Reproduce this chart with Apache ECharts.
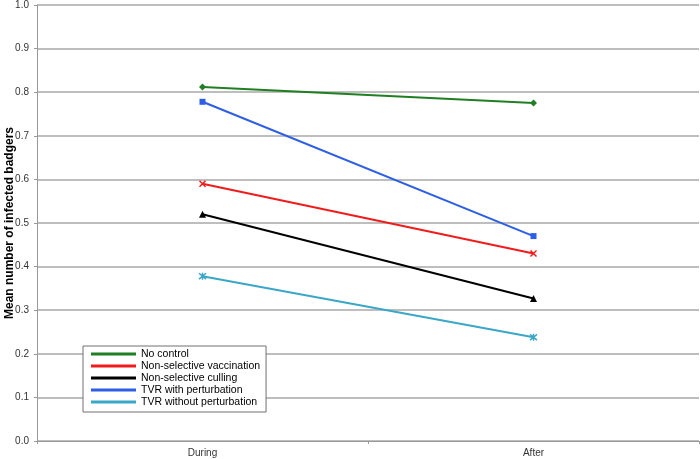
<!DOCTYPE html>
<html>
<head>
<meta charset="utf-8">
<script src="https://cdn.jsdelivr.net/npm/echarts@6/dist/echarts.min.js"></script>
<style>html,body{margin:0;padding:0;background:#fff}#c{width:700px;height:459px}</style>
</head>
<body>
<div id="c"></div>
<script>
var categories = ['During', 'After'];
var seriesNames = ['No control', 'Non-selective vaccination', 'Non-selective culling', 'TVR with perturbation', 'TVR without perturbation'];
var noControl = [0.812, 0.775];
var nsVaccination = [0.590, 0.430];
var nsCulling = [0.520, 0.327];
var tvrWith = [0.778, 0.470];
var tvrWithout = [0.378, 0.238];
var yTicks = [0, 0.1, 0.2, 0.3, 0.4, 0.5, 0.6, 0.7, 0.8, 0.9, 1.0];

var colors = ['#1f7f22', '#f01c1c', '#000000', '#2c5fe6', '#3aa7c6'];
var symbols = ['diamond', 'path://M0,0L10,10M10,0L0,10', 'triangle', 'rect', 'path://M0,0L10,10M10,0L0,10M5,-1L5,11'];
var sizes = [7, 6, 7, 6, 7];
var dataSets = [noControl, nsVaccination, nsCulling, tvrWith, tvrWithout];

var chart = echarts.init(document.getElementById('c'));
var font = '"Liberation Sans", Arial, sans-serif';
chart.setOption({
  animation: false,
  textStyle: { fontFamily: font },
  grid: { left: 37, right: 1, top: 5, bottom: 18, containLabel: false, outerBoundsMode: 'none' },
  xAxis: {
    type: 'category',
    data: categories,
    boundaryGap: true,
    axisLine: { lineStyle: { color: '#999', width: 1 } },
    axisTick: { show: true, length: 3, lineStyle: { color: '#999' } },
    axisLabel: { color: '#333', fontSize: 10, margin: 7, fontFamily: font },
    splitLine: { show: false }
  },
  yAxis: {
    type: 'value',
    min: yTicks[0],
    max: yTicks[yTicks.length - 1],
    interval: 0.1,
    name: 'Mean number of infected badgers',
    nameLocation: 'middle',
    nameGap: 21,
    nameMoveOverlap: false,
    nameTextStyle: { fontWeight: 'bold', fontSize: 12, color: '#000', fontFamily: font },
    axisLine: { show: true, lineStyle: { color: '#999', width: 1 } },
    axisTick: { show: true, length: 3, lineStyle: { color: '#999' } },
    axisLabel: { color: '#333', fontSize: 10, margin: 8, fontFamily: font, formatter: function (v) { return v.toFixed(1); } },
    splitLine: { show: true, lineStyle: { color: '#a8a8a8', width: 1.5 } }
  },
  legend: {
    orient: 'vertical',
    left: 83,
    top: 346,
    padding: [2, 6, 4, 8],
    itemGap: 0,
    itemWidth: 45,
    itemHeight: 3,
    icon: 'rect',
    itemStyle: { borderWidth: 0 },
    borderColor: '#707070',
    borderWidth: 1,
    backgroundColor: '#fff',
    textStyle: { fontSize: 10.5, color: '#000', lineHeight: 12, fontFamily: font, padding: [0, 0, 0, 0] },
    data: seriesNames
  },
  series: dataSets.map(function (d, i) {
    return {
      name: seriesNames[i],
      type: 'line',
      data: d,
      symbol: symbols[i],
      symbolSize: sizes[i],
      showAllSymbol: true,
      color: colors[i],
      lineStyle: { width: 2, color: colors[i] },
      itemStyle: { color: colors[i], borderColor: colors[i], borderWidth: (i === 1 || i === 4) ? 1.5 : 0 },
      z: 10 - i
    };
  })
});
</script>
</body>
</html>
